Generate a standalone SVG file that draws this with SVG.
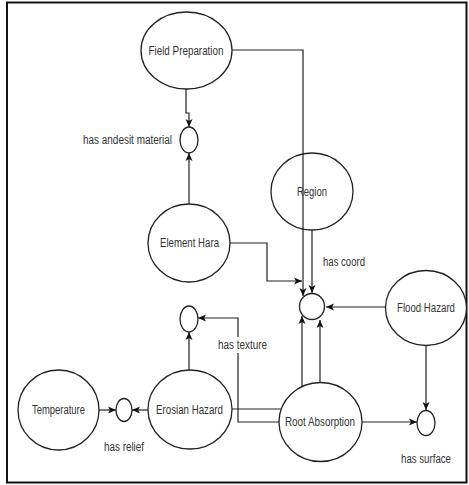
<svg xmlns="http://www.w3.org/2000/svg" width="469" height="485" viewBox="0 0 469 485">
<defs>
<marker id="arr" markerUnits="userSpaceOnUse" markerWidth="9" markerHeight="8" refX="8" refY="4" orient="auto">
<path d="M0,0.5 L8,4 L0,7.5 L2,4 z" fill="#111"/>
</marker>
<style>
.node ellipse{fill:#fff;stroke:#222;stroke-width:1.3}
.node ellipse.see{fill:none}
.txt{font-family:"Liberation Sans",Arial,sans-serif;font-size:12px;fill:#333;text-anchor:middle}
.lbl{font-family:"Liberation Sans",Arial,sans-serif;font-size:12px;fill:#333}
.conn path{fill:none;stroke:#222;stroke-width:1.2}
.conn path.a{marker-end:url(#arr)}
</style>
</defs>
<rect x="0" y="0" width="469" height="485" fill="#fff"/>
<rect x="7" y="2.5" width="459.5" height="480" fill="none" stroke="#111" stroke-width="2"/>
<g id="connectors" class="conn">
<path class="a" d="M186,89 V113 H189 V127"/>
<path class="a" d="M189,204 V153"/>
<path class="a" d="M232,50 H303 V296"/>
<path class="a" d="M312,230 V293"/>
<path class="a" d="M230,243 H267 V281 H302"/>
<path class="a" d="M386,307 H326"/>
<path class="a" d="M426,346 V410"/>
<path class="a" d="M302,386 V316"/>
<path class="a" d="M320,383 V320"/>
<path class="a" d="M362,422 H417"/>
<path class="a" d="M189,370 V332"/>
<path class="a" d="M279,422 H238 V318 H198"/>
<path class="a" d="M148,410 H132"/>
<path class="a" d="M99,410 H116"/>
<path d="M232,409 H281"/>
</g>
<g id="field-preparation" class="node"><ellipse cx="186.5" cy="50.5" rx="45.5" ry="38.5"/><text class="txt" x="186" y="55" textLength="75" lengthAdjust="spacingAndGlyphs">Field Preparation</text></g>
<g id="has-andesit-material" class="node"><ellipse cx="189" cy="140" rx="9" ry="13"/><text class="lbl" x="83" y="144" textLength="89" lengthAdjust="spacingAndGlyphs">has andesit material</text></g>
<g id="region" class="node"><ellipse class="see" cx="312" cy="191.5" rx="41" ry="38.5"/><text class="txt" x="312" y="196" textLength="30" lengthAdjust="spacingAndGlyphs">Region</text></g>
<g id="element-hara" class="node"><ellipse cx="189" cy="243" rx="41" ry="39"/><text class="txt" x="189.5" y="247" textLength="59" lengthAdjust="spacingAndGlyphs">Element Hara</text></g>
<g id="has-coord" class="node"><ellipse cx="312" cy="306.5" rx="12.5" ry="13"/><text class="lbl" x="323" y="266" textLength="42" lengthAdjust="spacingAndGlyphs">has coord</text></g>
<g id="flood-hazard" class="node"><ellipse cx="426" cy="308" rx="40.5" ry="37.5"/><text class="txt" x="426" y="312" textLength="58" lengthAdjust="spacingAndGlyphs">Flood Hazard</text></g>
<g id="has-texture" class="node"><ellipse cx="189" cy="319" rx="9" ry="13"/><rect x="216" y="337" width="53" height="16" fill="#fff"/><text class="txt" x="242.5" y="349" textLength="49" lengthAdjust="spacingAndGlyphs">has texture</text></g>
<g id="temperature" class="node"><ellipse cx="58.5" cy="410" rx="40.5" ry="40"/><text class="txt" x="58.5" y="414" textLength="53" lengthAdjust="spacingAndGlyphs">Temperature</text></g>
<g id="has-relief" class="node"><ellipse cx="124" cy="410" rx="8" ry="11.5"/><text class="txt" x="124" y="451" textLength="40" lengthAdjust="spacingAndGlyphs">has relief</text></g>
<g id="erosian-hazard" class="node"><ellipse cx="190" cy="409.5" rx="42" ry="39.5"/><text class="txt" x="189.5" y="414" textLength="67" lengthAdjust="spacingAndGlyphs">Erosian Hazard</text></g>
<g id="root-absorption" class="node"><ellipse cx="320.5" cy="422" rx="41.5" ry="39.5"/><text class="txt" x="320" y="426" textLength="70" lengthAdjust="spacingAndGlyphs">Root Absorption</text></g>
<g id="has-surface" class="node"><ellipse cx="426" cy="423" rx="9" ry="12.5"/><text class="txt" x="426" y="463" textLength="50" lengthAdjust="spacingAndGlyphs">has surface</text></g>
</svg>
